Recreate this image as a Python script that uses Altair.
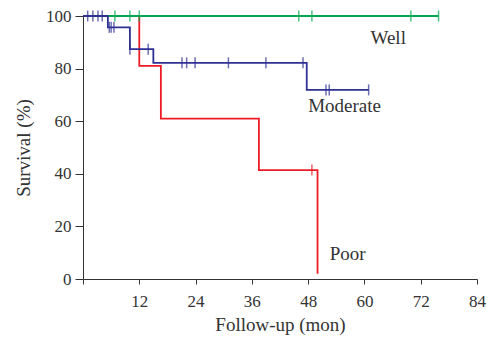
import altair as alt
import pandas as pd

# Step curves (Kaplan-Meier), time in months, survival in %
groups = ["Poor", "Well", "Moderate"]
colors = ["#ed1c24", "#00a651", "#2e3192"]

poor_t = [0, 12.0, 16.6, 37.5, 50.0]
poor_s = [100, 81.0, 61.0, 41.4, 2.0]
well_t = [0, 75.8]
well_s = [100, 100]
mod_t = [0, 5.3, 10.0, 15.0, 47.7, 60.9]
mod_s = [100, 95.7, 87.4, 82.2, 71.9, 71.9]

# Censor marks
poor_ct = [48.8]
poor_cs = [41.4]
well_ct = [6.8, 10.0, 12.0, 46.0, 48.8, 69.9, 75.8]
well_cs = [100, 100, 100, 100, 100, 100, 100]
mod_ct = [1.0, 2.1, 3.2, 4.1, 5.6, 6.0, 6.6, 10.0, 13.9, 21.1, 22.1, 23.9, 31.0, 39.0, 46.9, 51.8, 52.5, 60.9]
mod_cs = [100, 100, 100, 100, 95.7, 95.7, 95.7, 87.4, 87.4, 82.2, 82.2, 82.2, 82.2, 82.2, 82.2, 71.9, 71.9, 71.9]

# Labels
lab_text = ["Well", "Moderate", "Poor"]
lab_x = [61.3, 48.0, 52.6]
lab_y = [89.4, 63.5, 7.3]

x_ticks = [0, 12, 24, 36, 48, 60, 72, 84]
y_ticks = [0, 20, 40, 60, 80, 100]

FONT = "Liberation Serif"

curves = {"Poor": (poor_t, poor_s), "Well": (well_t, well_s), "Moderate": (mod_t, mod_s)}
cens = {"Poor": (poor_ct, poor_cs), "Well": (well_ct, well_cs), "Moderate": (mod_ct, mod_cs)}

xsc = alt.Scale(domain=[0, 84], nice=False, zero=False)
ysc = alt.Scale(domain=[0, 100], nice=False)

xaxis = alt.Axis(values=x_ticks, labelExpr="datum.value == 0 ? '' : datum.label",
                 title="Follow-up (mon)", grid=False, tickSize=5, labelPadding=9,
                 titlePadding=6, labelFontSize=17, titleFontSize=19,
                 labelFont=FONT, titleFont=FONT, titleFontWeight="normal",
                 domainColor="#333", tickColor="#333", labelColor="#333", titleColor="#333",
                 labelFlush=False)
yaxis = alt.Axis(values=y_ticks, title="Survival (%)", grid=False, tickSize=8, labelPadding=4,
                 titlePadding=12, labelFontSize=17, titleFontSize=19,
                 labelFont=FONT, titleFont=FONT, titleFontWeight="normal",
                 domainColor="#333", tickColor="#333", labelColor="#333", titleColor="#333",
                 labelFlush=False)

def X(field):
    return alt.X(field, scale=xsc, axis=xaxis)

def Y(field):
    return alt.Y(field, scale=ysc, axis=yaxis)

layers = []
for g, c in zip(groups, colors):
    t, s = curves[g]
    df = pd.DataFrame({"time": t, "surv": s})
    layers.append(alt.Chart(df).mark_line(interpolate="step-after", color=c, strokeWidth=1.8)
                  .encode(x=X("time:Q"), y=Y("surv:Q")))
for g, c in zip(groups, colors):
    t, s = cens[g]
    df = pd.DataFrame({"time": t, "surv": s})
    layers.append(alt.Chart(df).mark_tick(orient="vertical", color=c, size=11, thickness=1.5)
                  .encode(x=X("time:Q"), y=Y("surv:Q")))

lab_df = pd.DataFrame({"text": lab_text, "x": lab_x, "y": lab_y})
layers.append(alt.Chart(lab_df).mark_text(align="left", baseline="alphabetic", font=FONT,
                                          fontSize=19, color="#333")
              .encode(x=X("x:Q"), y=Y("y:Q"), text="text:N"))

chart = alt.layer(*layers).properties(
    width=394, height=263,
    background="white",
    autosize=alt.AutoSizeParams(type="none"),
    padding={"left": 75, "top": 8, "right": 10, "bottom": 61},
).configure_view(stroke=None)

chart.save("out.html", embed_options={"renderer": "svg", "actions": False})
